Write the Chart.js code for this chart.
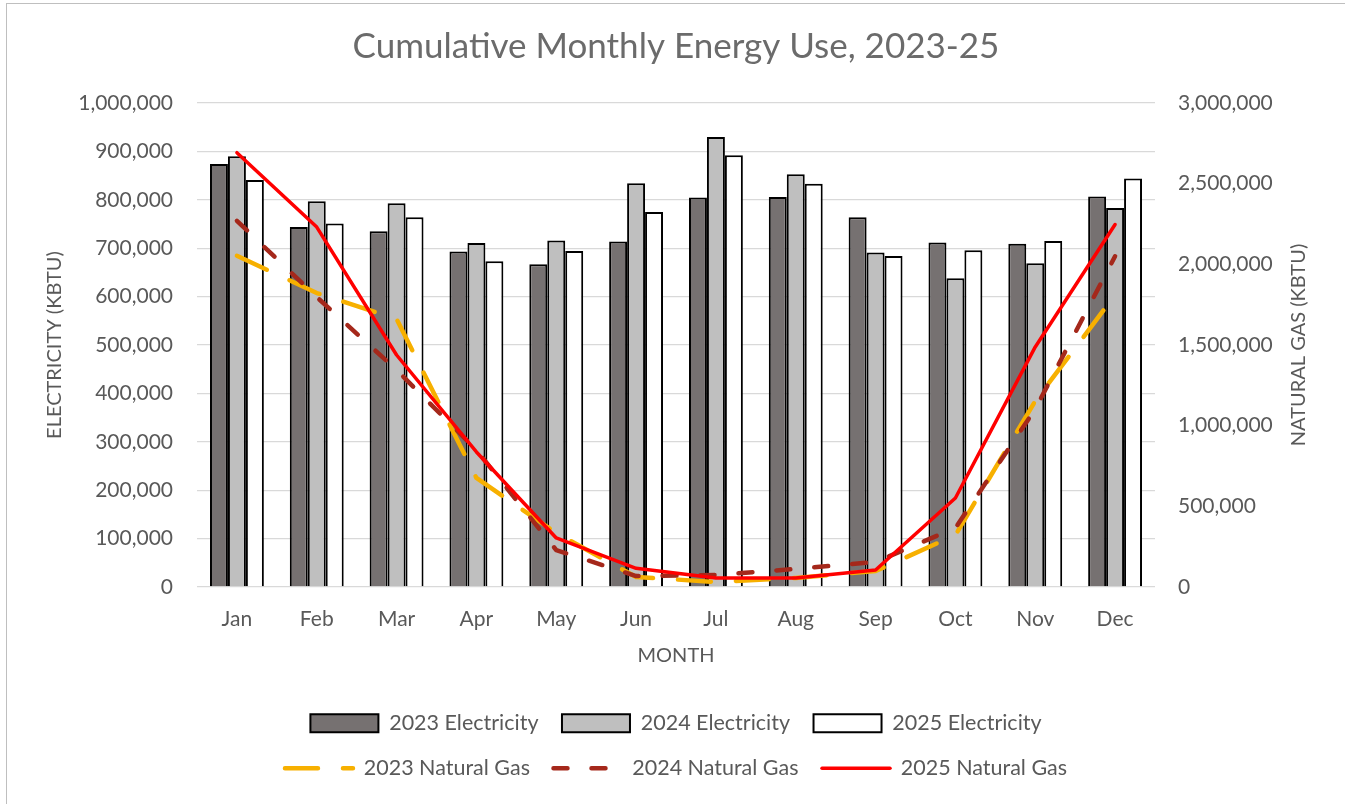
<!DOCTYPE html>
<html>
<head>
<meta charset="utf-8">
<script src="https://cdn.jsdelivr.net/npm/chart.js@4"></script>
<style>
  body { margin: 0; background: #fff; }
  #wrap { position: absolute; left: 6px; top: 3px; border-left: 1px solid #bfbfbf; border-top: 1px solid #bfbfbf; }
</style>
</head>
<body>
<div id="wrap"><canvas id="energyChart" width="1338" height="800"></canvas></div>
<script>
const months = ['Jan', 'Feb', 'Mar', 'Apr', 'May', 'Jun', 'Jul', 'Aug', 'Sep', 'Oct', 'Nov', 'Dec'];

const elec2023 = [874000, 744000, 735000, 693000, 667000, 714000, 805000, 806000, 764000, 712000, 709000, 807000];
const elec2024 = [890000, 797000, 793000, 711000, 716000, 834000, 930000, 853000, 691000, 638000, 669000, 783000];
const elec2025 = [841000, 751000, 764000, 673000, 694000, 775000, 892000, 833000, 684000, 696000, 715000, 844000];

const gas2023 = [2053000, 1822000, 1661000, 676000, 335000, 62000, 31000, 56000, 99000, 322000, 1153000, 1810000];
const gas2024 = [2270000, 1797000, 1345000, 849000, 229000, 68000, 74000, 112000, 155000, 366000, 1103000, 2050000];
const gas2025 = [2692000, 2231000, 1438000, 837000, 304000, 116000, 56000, 56000, 105000, 552000, 1488000, 2247000];

const elecTicks = [0, 100000, 200000, 300000, 400000, 500000, 600000, 700000, 800000, 900000, 1000000];
const gasTicks = [0, 500000, 1000000, 1500000, 2000000, 2500000, 3000000];

const grey = '#595959';
Chart.defaults.font.family = 'Lato, "Open Sans", sans-serif';
Chart.defaults.color = grey;

// right axis title reads bottom-to-top like the left one
const rightTitle = {
  id: 'rightTitle',
  afterDraw(chart) {
    const { ctx, chartArea } = chart;
    ctx.save();
    ctx.translate(1292, (chartArea.top + chartArea.bottom) / 2);
    ctx.rotate(-Math.PI / 2);
    ctx.font = '20px Lato, "Open Sans", sans-serif';
    ctx.fillStyle = grey;
    ctx.textAlign = 'center';
    ctx.textBaseline = 'middle';
    ctx.fillText('NATURAL GAS (KBTU)', 0, 0);
    ctx.restore();
  }
};

function barSet(label, data, color) {
  return { type: 'bar', label, data, backgroundColor: color, borderColor: '#000', borderWidth: 2, yAxisID: 'y', order: 4 };
}
function gasSet(label, data, color, width, dash, order) {
  return {
    type: 'line', label, data, borderColor: color, backgroundColor: color, borderWidth: width,
    borderDash: dash, borderCapStyle: 'round', borderJoinStyle: 'round',
    pointRadius: 0, tension: 0, yAxisID: 'y1', order
  };
}

const ctx = document.getElementById('energyChart').getContext('2d');
new Chart(ctx, {
  data: {
    labels: months,
    datasets: [
      barSet('2023 Electricity', elec2023, '#767171'),
      barSet('2024 Electricity', elec2024, '#BFBFBF'),
      barSet('2025 Electricity', elec2025, '#FFFFFF'),
      gasSet('2023 Natural Gas', gas2023, '#F7B000', 4.5, [33, 25], 3),
      gasSet('2024 Natural Gas', gas2024, '#A5281B', 4.5, [14, 24], 2),
      gasSet('2025 Natural Gas', gas2025, '#FF0000', 3.5, [], 1)
    ]
  },
  options: {
    responsive: false,
    animation: false,
    layout: { padding: { bottom: 15 } },
    datasets: { bar: { categoryPercentage: 0.675, barPercentage: 1 } },
    scales: {
      x: {
        grid: { display: false },
        border: { display: false },
        ticks: { color: grey, font: { size: 21 }, padding: 12 },
        title: { display: true, text: 'MONTH', color: grey, font: { size: 20 }, padding: { top: 0, bottom: 21 } },
        afterFit(scale) { scale.height = 102; }
      },
      y: {
        position: 'left',
        min: 0,
        max: 1000000,
        afterBuildTicks(scale) { scale.ticks = elecTicks.map(v => ({ value: v })); },
        grid: { color: '#d9d9d9', lineWidth: 1.3, drawTicks: false },
        border: { display: false },
        ticks: { color: grey, font: { size: 21 }, padding: 24, callback: v => v.toLocaleString('en-US') },
        title: { display: true, text: 'ELECTRICITY (KBTU)', color: grey, font: { size: 20 }, padding: { top: 36, bottom: 0 } },
        afterFit(scale) { scale.width = 190; }
      },
      y1: {
        position: 'right',
        min: 0,
        max: 3000000,
        afterBuildTicks(scale) { scale.ticks = gasTicks.map(v => ({ value: v })); },
        grid: { display: false, drawTicks: false },
        border: { display: false },
        ticks: { color: grey, font: { size: 21 }, padding: 23, callback: v => v.toLocaleString('en-US') },
        afterFit(scale) { scale.width = 190; }
      }
    },
    plugins: {
      title: {
        display: true,
        text: 'Cumulative Monthly Energy Use, 2023-25',
        color: '#6b6b6b',
        font: { size: 35, weight: 'normal' },
        padding: { top: 22, bottom: 35 }
      },
      legend: {
        position: 'bottom',
        fullSize: false,
        labels: {
          usePointStyle: true,
          pointStyleWidth: 68,
          boxHeight: 18,
          padding: 23.5,
          color: grey,
          font: { size: 21.5 },
          generateLabels(chart) {
            return chart.data.datasets.map((ds, i) => ({
              text: ds.label,
              datasetIndex: i,
              fillStyle: ds.type === 'line' ? 'rgba(0,0,0,0)' : ds.backgroundColor,
              strokeStyle: ds.borderColor,
              lineWidth: ds.borderWidth,
              lineDash: ds.borderDash || [],
              lineCap: ds.type === 'line' ? 'round' : 'butt',
              pointStyle: ds.type === 'line' ? 'line' : 'rect',
              fontColor: grey
            }));
          }
        }
      },
      tooltip: { enabled: false }
    }
  },
  plugins: [rightTitle]
});
</script>
</body>
</html>
